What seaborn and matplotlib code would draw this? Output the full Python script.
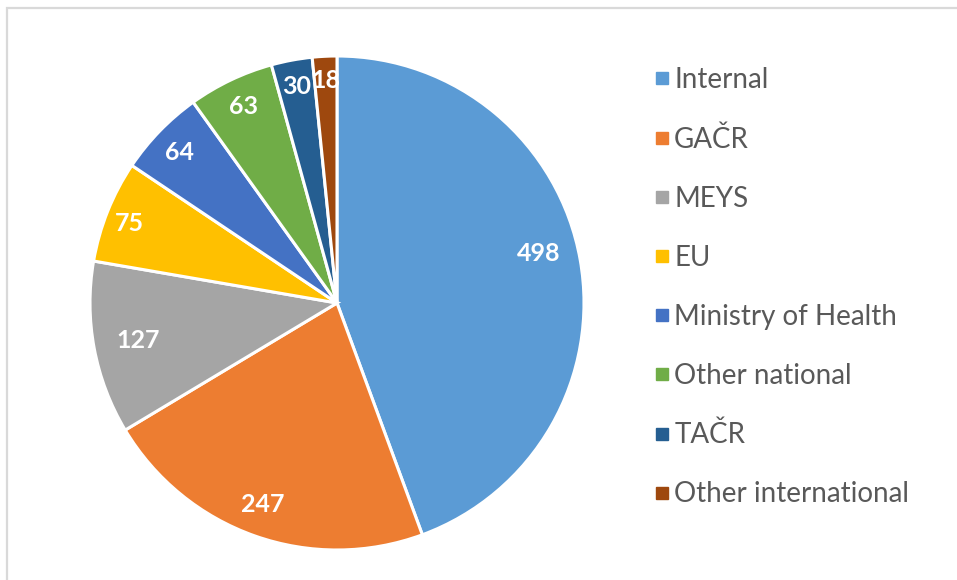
import matplotlib
matplotlib.use("Agg")
import matplotlib.pyplot as plt
import seaborn as sns
import numpy as np
from matplotlib.lines import Line2D
from matplotlib.patches import Rectangle

sns.set_theme(style="white")
plt.rcParams['font.family'] = ['Lato', 'DejaVu Sans']

categories = ["Internal", "GAČR", "MEYS", "EU", "Ministry of Health",
              "Other national", "TAČR", "Other international"]
values = [498, 247, 127, 75, 64, 63, 30, 18]
colors = ["#5B9BD5", "#ED7D31", "#A5A5A5", "#FFC000", "#4472C4",
          "#70AD47", "#255E91", "#9E480E"]
# label placement styles (radial distance, angular nudge in degrees)
label_dist = [0.84, 0.87, 0.82, 0.90, 0.88, 0.88, 0.89, 0.90]
label_nudge = [3.7, -0.7, 0, 0.9, 0.4, 0, 0, 0]

W, H = 957, 580
fig = plt.figure(figsize=(W / 100, H / 100), dpi=100)

# outer frame
fig.patches.append(Rectangle((7 / W, -0.1), 1.2, (H - 8) / H + 0.1,
                             transform=fig.transFigure, fill=False,
                             edgecolor="#D9D9D9", linewidth=1.6))

cx, cy, r = 337, 303, 247
ax = fig.add_axes([(cx - r) / W, (H - cy - r) / H, 2 * r / W, 2 * r / H])
wedges, _ = ax.pie(values, colors=colors, startangle=90, counterclock=False,
                   radius=1, wedgeprops=dict(edgecolor="white", linewidth=2.2))
ax.set_xlim(-1, 1)
ax.set_ylim(-1, 1)
ax.set_aspect("equal")
ax.axis("off")

for w, v, d, n in zip(wedges, values, label_dist, label_nudge):
    ang = np.deg2rad((w.theta1 + w.theta2) / 2 + n)
    ax.text(d * np.cos(ang), d * np.sin(ang), str(v), ha="center", va="center",
            color="white", fontsize=18, fontweight="bold")

handles = [Line2D([], [], marker="s", linestyle="none", markersize=8.5,
                  markerfacecolor=c, markeredgecolor=c) for c in colors]
leg = fig.legend(handles, categories, loc="upper left",
                 bbox_to_anchor=(639.5 / W, 1 - 56 / H), frameon=False,
                 fontsize=20, labelspacing=1.19, handletextpad=0.05,
                 handlelength=0.8, borderaxespad=0)
for t in leg.get_texts():
    t.set_color("#595959")

fig.savefig("out.png", dpi=100)
